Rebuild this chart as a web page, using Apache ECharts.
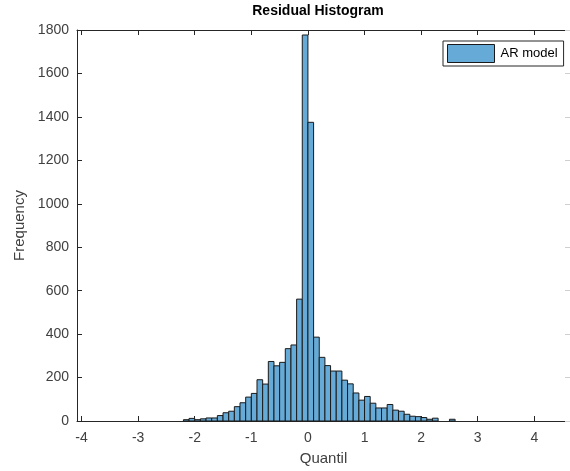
<!DOCTYPE html>
<html>
<head>
<meta charset="utf-8">
<script src="https://cdn.jsdelivr.net/npm/echarts@6/dist/echarts.min.js"></script>
<style>
html,body{margin:0;padding:0;background:#fff;}
#chart{width:570px;height:471px;}
</style>
</head>
<body>
<div id="chart"></div>
<script>
// Bin left edges (width 0.1)
var binStarts = [-2.2,-2.1,-2.0,-1.9,-1.8,-1.7,-1.6,-1.5,-1.4,-1.3,-1.2,-1.1,-1.0,-0.9,-0.8,-0.7,-0.6,-0.5,-0.4,-0.3,-0.2,-0.1,
  0.0,0.1,0.2,0.3,0.4,0.5,0.6,0.7,0.8,0.9,1.0,1.1,1.2,1.3,1.4,1.5,1.6,1.7,1.8,1.9,2.0,2.1,2.2,2.3,2.4,2.5];
var binEnds = [-2.1,-2.0,-1.9,-1.8,-1.7,-1.6,-1.5,-1.4,-1.3,-1.2,-1.1,-1.0,-0.9,-0.8,-0.7,-0.6,-0.5,-0.4,-0.3,-0.2,-0.1,0.0,
  0.1,0.2,0.3,0.4,0.5,0.6,0.7,0.8,0.9,1.0,1.1,1.2,1.3,1.4,1.5,1.6,1.7,1.8,1.9,2.0,2.1,2.2,2.3,2.4,2.5,2.6];
var counts = [6,12,6,10,14,14,25,38,45,66,84,110,127,190,170,274,254,270,333,350,561,1777,
  1375,386,293,255,230,230,188,171,129,96,113,82,60,60,76,50,45,31,22,20,16,8,13,0,0,8];
var xTicks = [-4,-3,-2,-1,0,1,2,3,4];
var seriesName = 'AR model';

var data = [];
for (var i = 0; i < counts.length; i++) {
  if (counts[i] > 0) data.push([binStarts[i], binEnds[i], counts[i]]);
}

var axisColor = '#262626';
var labelColor = '#404040';
var font = 'Liberation Sans, Arial, sans-serif';

var chart = echarts.init(document.getElementById('chart'), null, {renderer: 'canvas'});
chart.setOption({
  animation: false,
  backgroundColor: '#fff',
  grid: {left: 77, top: 30, right: 0, bottom: 48, containLabel: false},
  graphic: [{
    type: 'text', x: 318, y: 4,
    style: {text: 'Residual Histogram', font: 'bold 14px ' + font, fill: '#000', textAlign: 'center', textVerticalAlign: 'top'}
  }],
  legend: {
    data: [{name: seriesName, icon: 'rect'}],
    left: 443, top: 41,
    padding: [3, 6, 3, 4],
    itemWidth: 47, itemHeight: 18, itemGap: 4,
    backgroundColor: '#fff',
    borderColor: '#262626', borderWidth: 1, borderRadius: 0,
    itemStyle: {borderColor: '#1a1a1a', borderWidth: 1},
    textStyle: {fontFamily: font, fontSize: 13, color: '#000', padding: [0, 0, 0, 1]}
  },
  xAxis: [{
    type: 'value', min: -4.08, max: 4.63, position: 'bottom',
    name: 'Quantil', nameLocation: 'middle', nameGap: 30,
    nameTextStyle: {fontFamily: font, fontSize: 15, color: labelColor},
    axisLine: {show: true, onZero: false, lineStyle: {color: axisColor, width: 1}},
    axisTick: {show: true, inside: true, length: 5, customValues: xTicks, lineStyle: {color: axisColor}},
    axisLabel: {customValues: xTicks, margin: 10, fontFamily: font, fontSize: 14, color: labelColor},
    splitLine: {show: false}
  }, {
    type: 'value', min: -4.08, max: 4.63, position: 'top',
    axisLine: {show: true, onZero: false, lineStyle: {color: axisColor, width: 1}},
    axisTick: {show: true, inside: true, length: 5, customValues: xTicks, lineStyle: {color: axisColor}},
    axisLabel: {show: false},
    splitLine: {show: false}
  }],
  yAxis: [{
    type: 'value', min: 0, max: 1800, interval: 200, position: 'left',
    name: 'Frequency', nameLocation: 'middle', nameGap: 47, nameRotate: 90,
    nameTextStyle: {fontFamily: font, fontSize: 15, color: labelColor},
    axisLine: {show: true, onZero: false, lineStyle: {color: axisColor, width: 1}},
    axisTick: {show: true, inside: true, length: 5, lineStyle: {color: axisColor}},
    axisLabel: {margin: 8, fontFamily: font, fontSize: 14, color: labelColor,
      formatter: function (v) { return String(v); }},
    splitLine: {show: false}
  }, {
    type: 'value', min: 0, max: 1800, interval: 200, position: 'right',
    axisLine: {show: false, onZero: false},
    axisTick: {show: true, inside: true, length: 5, lineStyle: {color: '#cfcfcf'}},
    axisLabel: {show: false},
    splitLine: {show: false}
  }],
  series: [{
    name: seriesName,
    type: 'custom',
    xAxisIndex: 0, yAxisIndex: 0,
    itemStyle: {color: '#66AAD7', borderColor: '#1a1a1a', borderWidth: 1},
    encode: {x: [0, 1], y: 2},
    renderItem: function (params, api) {
      var p0 = api.coord([api.value(0), api.value(2)]);
      var p1 = api.coord([api.value(1), 0]);
      return {
        type: 'rect',
        shape: {x: p0[0], y: p0[1], width: p1[0] - p0[0], height: p1[1] - p0[1]},
        style: {fill: '#66AAD7', stroke: '#1a1a1a', lineWidth: 1}
      };
    },
    data: data
  }]
});
</script>
</body>
</html>
